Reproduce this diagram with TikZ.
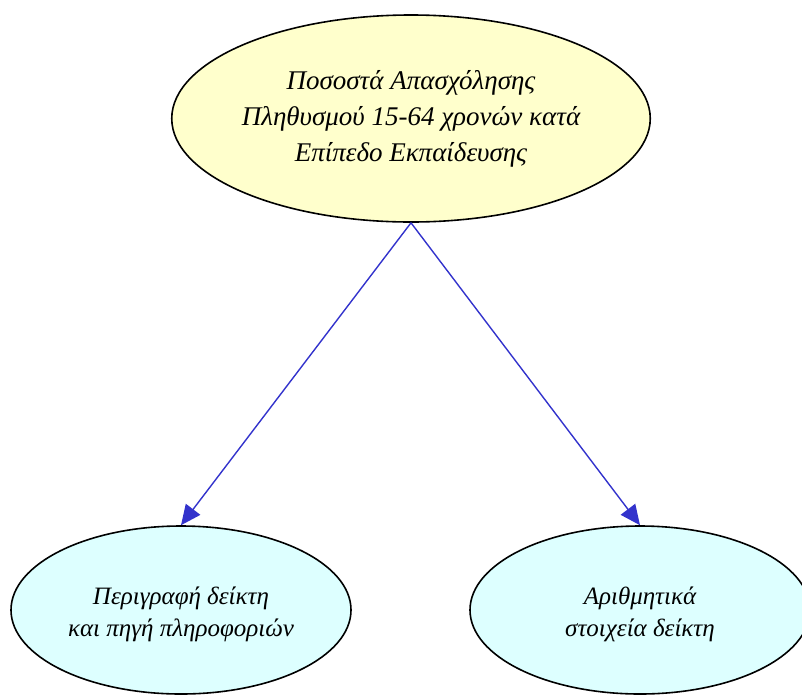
\documentclass[tikz,border=0pt]{standalone}
\usepackage{fontspec}
\setmainfont{Liberation Serif}
\usetikzlibrary{shapes.geometric,arrows.meta}
\definecolor{topfill}{HTML}{FFFFCC}
\definecolor{botfill}{HTML}{DDFFFF}
\definecolor{edgeblue}{HTML}{3333CC}
\tikzset{
  topbox/.style={ellipse, draw=black, line width=1.6pt, fill=topfill, minimum width=476pt, minimum height=207pt, inner sep=0pt, align=center, font=\itshape\fontsize{27}{36}\selectfont},
  botbox/.style={ellipse, draw=black, line width=1.6pt, fill=botfill, minimum width=340pt, minimum height=168pt, inner sep=0pt},
  botlabel/.style={align=center, inner sep=0pt, yshift=-4pt, font=\itshape\fontsize{25}{32}\selectfont},
  link/.style={draw=edgeblue, line width=1.4pt, -{Triangle[length=20pt,width=18pt]}}
}
\begin{document}
\begin{tikzpicture}[x=1pt,y=-1pt]
\useasboundingbox (0,0) rectangle (802,694);
\node[topbox] (top) at (411,118.5) {Ποσοστά Απασχόλησης\\Πληθυσμού 15-64 χρονών κατά\\Επίπεδο Εκπαίδευσης};
\node[botbox, label={[botlabel]center:Περιγραφή δείκτη\\και πηγή πληροφοριών}] (left) at (181,610) {};
\node[botbox, label={[botlabel]center:Αριθμητικά\\στοιχεία δείκτη}] (right) at (640,610) {};
\draw[link] (top.south) -- (left.north);
\draw[link] (top.south) -- (right.north);
\end{tikzpicture}
\end{document}
